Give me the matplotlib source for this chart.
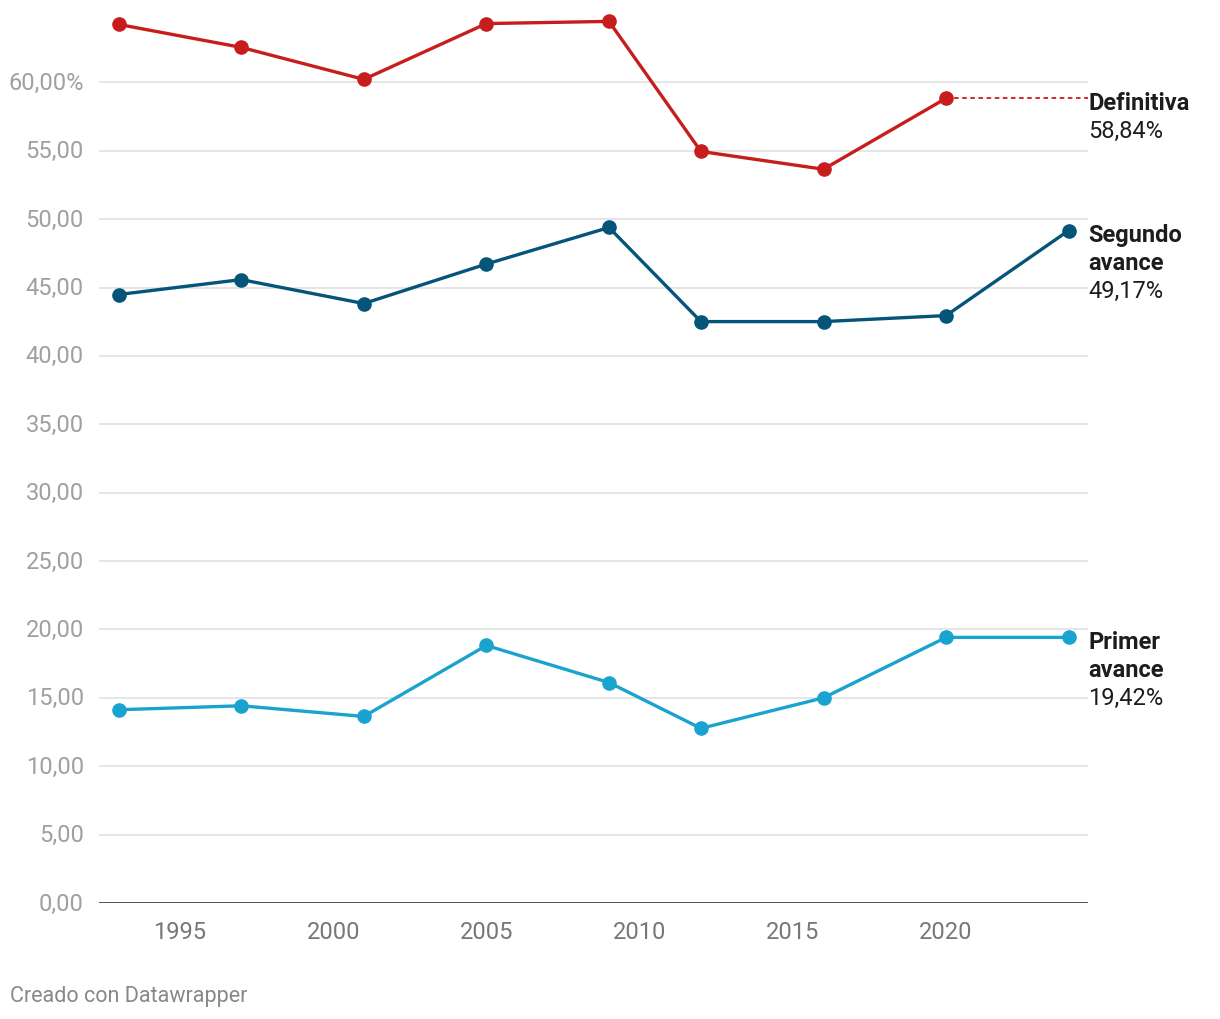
import matplotlib.pyplot as plt

# Data
years = [1993, 1997, 2001, 2005, 2009, 2012, 2016, 2020, 2024]
definitiva = [64.24, 62.56, 60.22, 64.30, 64.46, 54.95, 53.65, 58.84]
segundo = [44.49, 45.58, 43.83, 46.72, 49.39, 42.51, 42.51, 42.95, 49.17]
primer = [14.13, 14.42, 13.64, 18.83, 16.12, 12.77, 15.00, 19.42, 19.42]

series_labels = [("Definitiva", "58,84%"), ("Segundo\navance", "49,17%"), ("Primer\navance", "19,42%")]
yticks = [0, 5, 10, 15, 20, 25, 30, 35, 40, 45, 50, 55, 60]
xticks = [1995, 2000, 2005, 2010, 2015, 2020]

RED = '#c71e1d'
DARK = '#05547a'
LIGHT = '#1ba3cf'
XMIN, XMAX = 1992.36, 2024.63

plt.rcParams['font.family'] = ['Roboto', 'DejaVu Sans']

fig = plt.figure(figsize=(12.2, 10.2), dpi=100)
ax = fig.add_axes([99 / 1220, 116 / 1020, (1088 - 99) / 1220, (903 - 14) / 1020])

ax.set_xlim(XMIN, XMAX)
ax.set_ylim(0, 65)

for y in yticks[1:]:
    ax.axhline(y, color='#e3e3e3', lw=1.3, zorder=0)
ax.axhline(0, color='#1a1a1a', lw=1.8, zorder=1)

kw = dict(lw=2.4, marker='o', markersize=9.5, solid_capstyle='round', zorder=3)
ax.plot(years[:len(definitiva)], definitiva, color=RED, **kw)
ax.plot(years, segundo, color=DARK, **kw)
ax.plot(years, primer, color=LIGHT, **kw)

# dotted extension of the final value
ax.plot([years[len(definitiva) - 1], XMAX], [definitiva[-1]] * 2, color=RED,
        lw=1.3, linestyle=(0, (2.5, 2)), zorder=2)

for spine in ax.spines.values():
    spine.set_visible(False)

ax.set_yticks(yticks)
ylabels = [f"{v},00" for v in yticks]
ylabels[-1] = "60,00%"
ax.set_yticklabels(ylabels)
ax.set_xticks(xticks)
ax.set_xticklabels([str(x) for x in xticks])
ax.tick_params(axis='y', length=0, pad=11, labelsize=17, labelcolor='#a0a0a0')
ax.tick_params(axis='x', length=0, pad=12, labelsize=17, labelcolor='#777777')
for lbl in ax.get_yticklabels():
    lbl.set_verticalalignment('center')

# direct labels on the right
ends = [definitiva[-1], segundo[-1], primer[-1]]
for (name, val), yv in zip(series_labels, ends):
    lines = name.split("\n")
    for i, ln in enumerate(lines):
        ax.annotate(ln, xy=(1.0, yv), xycoords=('axes fraction', 'data'),
                    xytext=(0, -3 - i * 20.2), textcoords='offset points',
                    ha='left', va='center', fontsize=17, fontweight='bold', color='#1d1d1d')
    ax.annotate(val, xy=(1.0, yv), xycoords=('axes fraction', 'data'),
                xytext=(0, -3 - len(lines) * 20.2), textcoords='offset points',
                ha='left', va='center', fontsize=17, color='#1d1d1d')

fig.text(10 / 1220, 1 - 997 / 1020, "Creado con Datawrapper", ha='left', va='center',
         fontsize=15.5, color='#888888')

fig.savefig('out.png', dpi=100)
